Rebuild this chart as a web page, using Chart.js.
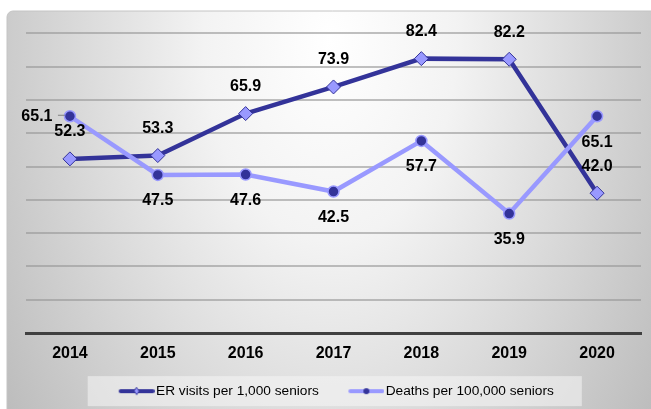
<!DOCTYPE html>
<html>
<head>
<meta charset="utf-8">
<script src="https://cdn.jsdelivr.net/npm/chart.js@4.4.0/dist/chart.umd.min.js"></script>
<style>
  html, body { margin: 0; padding: 0; background: #ffffff; }
  #wrap { width: 651px; height: 409px; }
</style>
</head>
<body>
<div id="wrap"><canvas id="seniorChart"></canvas></div>
<script>
// Data
const years = ["2014", "2015", "2016", "2017", "2018", "2019", "2020"];
const erVisits = [52.3, 53.3, 65.9, 73.9, 82.4, 82.2, 42.0];
const deaths = [65.1, 47.5, 47.6, 42.5, 57.7, 35.9, 65.1];
const seriesNames = ["ER visits per 1,000 seniors", "Deaths per 100,000 seniors"];
const yMin = 0;
const yMax = 100;
const yStep = 10;

const DARK = "#333399";
const LIGHT = "#9999ff";
const SANS = '"Liberation Sans", Arial, sans-serif';

// where each value label sits relative to its point
const labelPlace = [
  ["above", "above", "above", "above", "above", "above", "above"],
  ["left", "below", "below", "below", "below", "below", "below"],
];

// legend samples: a line with the marker in the middle, drawn at the right of a wider canvas
const SAMPLE_BOX = 50;
function legendSample(lineColor, drawMarker) {
  const c = document.createElement("canvas");
  c.width = SAMPLE_BOX + 11;
  c.height = 10;
  const g = c.getContext("2d");
  const x0 = c.width - 36;
  g.strokeStyle = lineColor;
  g.lineWidth = 4;
  g.lineCap = "round";
  g.beginPath();
  g.moveTo(x0 + 2, 5);
  g.lineTo(x0 + 34, 5);
  g.stroke();
  drawMarker(g, x0 + 18);
  return c;
}
const erSample = legendSample(DARK, (g, cx) => {
  g.fillStyle = LIGHT;
  g.strokeStyle = DARK;
  g.lineWidth = 1;
  g.beginPath();
  g.moveTo(cx, 1.5);
  g.lineTo(cx + 2.5, 5);
  g.lineTo(cx, 8.5);
  g.lineTo(cx - 2.5, 5);
  g.closePath();
  g.fill();
  g.stroke();
});
const deathSample = legendSample(LIGHT, (g, cx) => {
  g.fillStyle = DARK;
  g.beginPath();
  g.arc(cx, 5, 3, 0, Math.PI * 2);
  g.fill();
});

// grey gradient panel and the legend box behind everything
const panel = {
  id: "panel",
  beforeDraw(chart) {
    const ctx = chart.ctx;
    ctx.save();
    ctx.beginPath();
    ctx.roundRect(7, 11, 660, 420, 6);
    ctx.save();
    ctx.clip();
    ctx.translate(330, 40);
    ctx.scale(1, 1.6);
    const g = ctx.createRadialGradient(0, 0, 0, 0, 0, 420);
    g.addColorStop(0, "#ffffff");
    g.addColorStop(0.3, "#f3f3f3");
    g.addColorStop(1, "#b8b8b8");
    ctx.fillStyle = g;
    ctx.fillRect(-400, -40, 800, 300);
    ctx.restore();
    ctx.strokeStyle = "#c4c4c4";
    ctx.lineWidth = 1;
    ctx.stroke();

    const boxes = chart.legend.legendHitBoxes;
    if (boxes && boxes.length) {
      const first = boxes[0];
      const last = boxes[boxes.length - 1];
      const cy = first.top + first.height / 2;
      const left = first.left + SAMPLE_BOX - 30.5 - 31;
      const right = last.left + last.width + 28;
      ctx.fillStyle = "rgba(245,245,245,0.55)";
      ctx.fillRect(left, cy - 15, right - left, 30);
    }
    ctx.restore();
  },
};

// value labels next to each point
const valueLabels = {
  id: "valueLabels",
  afterDatasetsDraw(chart) {
    const ctx = chart.ctx;
    ctx.save();
    ctx.font = "bold 16px " + SANS;
    ctx.fillStyle = "#000000";
    ctx.textAlign = "center";
    ctx.textBaseline = "middle";
    chart.data.datasets.forEach((ds, i) => {
      const meta = chart.getDatasetMeta(i);
      meta.data.forEach((pt, j) => {
        const text = ds.data[j].toFixed(1);
        const place = labelPlace[i][j];
        if (place === "left") {
          ctx.strokeStyle = "#808080";
          ctx.lineWidth = 1;
          ctx.beginPath();
          ctx.moveTo(pt.x - 12, pt.y - 1);
          ctx.lineTo(pt.x - 5, pt.y - 1);
          ctx.stroke();
          ctx.fillText(text, pt.x - 33, pt.y);
        } else if (place === "below") {
          ctx.fillText(text, pt.x, pt.y + 26);
        } else {
          ctx.fillText(text, pt.x, pt.y - 27);
        }
      });
    });
    ctx.restore();
  },
};

const ctx = document.getElementById("seniorChart").getContext("2d");
const seniorChart = new Chart(ctx, {
  type: "line",
  data: {
    labels: years,
    datasets: [
      {
        label: seriesNames[0],
        data: erVisits,
        borderColor: DARK,
        borderWidth: 4.5,
        pointStyle: "rectRot",
        pointRadius: 7,
        pointBackgroundColor: LIGHT,
        pointBorderColor: DARK,
        pointBorderWidth: 1,
        tension: 0,
        order: 1,
      },
      {
        label: seriesNames[1],
        data: deaths,
        borderColor: LIGHT,
        borderWidth: 4.5,
        pointStyle: "circle",
        pointRadius: 5.5,
        pointBackgroundColor: DARK,
        pointBorderColor: LIGHT,
        pointBorderWidth: 1.5,
        tension: 0,
        order: 0,
      },
    ],
  },
  options: {
    responsive: true,
    maintainAspectRatio: false,
    animation: false,
    layout: {
      autoPadding: false,
      padding: { left: 12, right: 10, top: 0, bottom: 1 },
    },
    plugins: {
      tooltip: { enabled: false },
      legend: {
        position: "bottom",
        labels: {
          usePointStyle: true,
          pointStyleWidth: SAMPLE_BOX,
          padding: 10,
          color: "#000000",
          font: { family: SANS, size: 13.7 },
          sort: (a, b) => a.datasetIndex - b.datasetIndex,
          generateLabels(chart) {
            const items = Chart.defaults.plugins.legend.labels.generateLabels(chart);
            items.forEach((it) => {
              it.pointStyle = it.datasetIndex === 0 ? erSample : deathSample;
            });
            return items;
          },
        },
      },
    },
    scales: {
      x: {
        offset: true,
        grid: { display: false, drawTicks: false },
        border: { display: true, color: "#404040", width: 3 },
        ticks: {
          padding: 11,
          color: "#000000",
          font: { family: SANS, size: 16, weight: "bold" },
        },
      },
      y: {
        min: yMin,
        max: yMax,
        afterFit: (scale) => {
          scale.width = 14;
        },
        border: { display: false },
        grid: {
          drawTicks: false,
          lineWidth: 2,
          color: (c) =>
            c.tick && (c.tick.value === yMin || c.tick.value === yMax)
              ? "rgba(0,0,0,0)"
              : "rgba(150,150,150,0.6)",
        },
        ticks: { display: false, stepSize: yStep },
      },
    },
  },
  plugins: [panel, valueLabels],
});
</script>
</body>
</html>
